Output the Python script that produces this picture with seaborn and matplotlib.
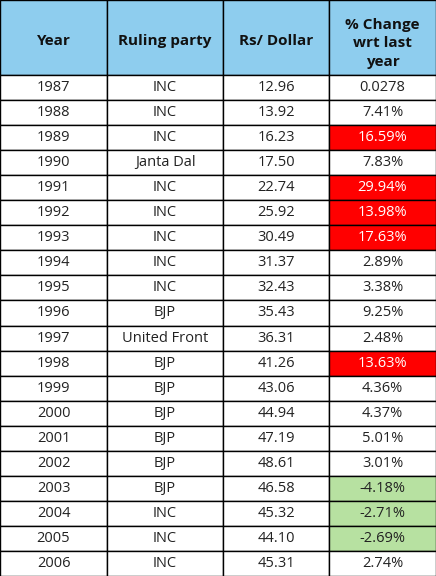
import matplotlib.pyplot as plt
from matplotlib.patches import Rectangle
import seaborn as sns

sns.set_theme(style="white")
plt.rcParams['font.family'] = ['Open Sans', 'DejaVu Sans']

headers = ["Year", "Ruling party", "Rs/ Dollar", "% Change\nwrt last\nyear"]
years = list(range(1987, 2007))
parties = ["INC", "INC", "INC", "Janta Dal", "INC", "INC", "INC", "INC", "INC", "BJP",
           "United Front", "BJP", "BJP", "BJP", "BJP", "BJP", "BJP", "INC", "INC", "INC"]
rates = ["12.96", "13.92", "16.23", "17.50", "22.74", "25.92", "30.49", "31.37", "32.43", "35.43",
         "36.31", "41.26", "43.06", "44.94", "47.19", "48.61", "46.58", "45.32", "44.10", "45.31"]
changes = ["0.0278", "7.41%", "16.59%", "7.83%", "29.94%", "13.98%", "17.63%", "2.89%", "3.38%", "9.25%",
           "2.48%", "13.63%", "4.36%", "4.37%", "5.01%", "3.01%", "-4.18%", "-2.71%", "-2.69%", "2.74%"]
# highlight: r = big rise, g = fall
flags = ["", "", "r", "", "r", "r", "r", "", "", "", "", "r", "", "", "", "", "g", "g", "g", ""]

W, H = 436, 576
col_edges = [0, 107, 223, 329, 436]
head_h = 75
row_h = (H - head_h) / len(years)

fig = plt.figure(figsize=(W / 100, H / 100), dpi=100)
ax = fig.add_axes([0, 0, 1, 1])
ax.set_xlim(0, W)
ax.set_ylim(H, 0)
ax.axis("off")

colors = {"": "white", "r": "#ff0000", "g": "#b7e1a1"}

for j, h in enumerate(headers):
    x0, x1 = col_edges[j], col_edges[j + 1]
    ax.add_patch(Rectangle((x0, 0), x1 - x0, head_h, facecolor="#8ecdee", edgecolor="black", lw=1))
    ax.text((x0 + x1) / 2, head_h / 2 + 2, h, ha="center", va="center_baseline", fontsize=11,
            fontweight="bold", linespacing=1.4, color="#111111")

for i in range(len(years)):
    y0 = head_h + i * row_h
    vals = [str(years[i]), parties[i], rates[i], changes[i]]
    for j, v in enumerate(vals):
        x0, x1 = col_edges[j], col_edges[j + 1]
        fc = colors[flags[i]] if j == 3 else "white"
        ax.add_patch(Rectangle((x0, y0), x1 - x0, row_h, facecolor=fc, edgecolor="black", lw=1))
        ax.text((x0 + x1) / 2, y0 + row_h / 2, v, ha="center", va="center", fontsize=10.5,
                color="white" if fc == "#ff0000" else "#222222")

fig.savefig("out.png", dpi=100)
